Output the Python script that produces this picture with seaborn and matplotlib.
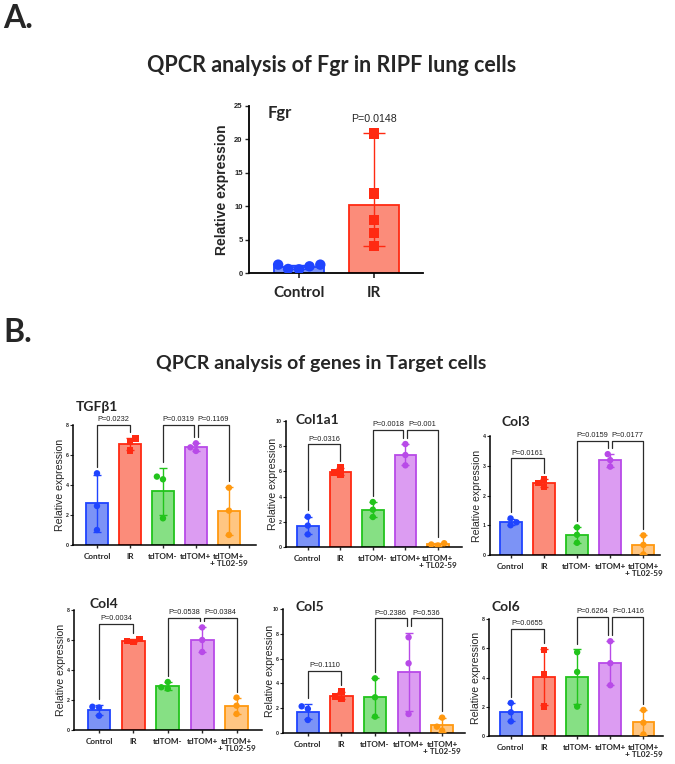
import numpy as np
import pandas as pd
import matplotlib
matplotlib.use("Agg")
import matplotlib.pyplot as plt
import seaborn as sns

# ---------------- data ----------------
groups = ["Control", "IR", "tdTOM-", "tdTOM+", "tdTOM+\n+ TL02-59"]

fgr_groups = ["Control", "IR"]
fgr_control = [0.6, 1.25, 1.0, 1.25, 0.55]
fgr_ir = [20.9, 11.9, 7.95, 5.95, 4.05]
fgr_p = "P=0.0148"

tgfb1 = [[4.78, 2.6, 1.0], [7.1, 6.85, 6.3], [4.56, 4.38, 1.78], [6.78, 6.51, 6.27], [3.82, 2.29, 0.67]]
col1a1 = [[2.4, 1.7, 1.0], [6.3, 5.9, 5.75], [3.57, 2.96, 2.38], [8.17, 7.3, 6.48], [0.3, 0.2, 0.12]]
col3 = [[1.23, 1.1, 1.0], [2.54, 2.41, 2.28], [0.93, 0.68, 0.41], [3.39, 3.19, 2.97], [0.66, 0.34, 0.02]]
col4 = [[1.55, 1.5, 0.95], [6.05, 5.95, 5.85], [3.2, 2.85, 2.75], [6.84, 6.0, 5.2], [2.16, 1.62, 1.07]]
col5 = [[2.15, 1.95, 1.05], [3.35, 2.95, 2.75], [4.41, 2.88, 1.32], [7.72, 5.62, 1.53], [1.24, 0.51, 0.19]]
col6 = [[2.26, 1.62, 1.0], [5.89, 4.2, 2.01], [5.73, 4.38, 2.01], [6.48, 4.98, 3.47], [1.78, 0.91, 0.11]]

tgfb1_p = ["P=0.0232", "P=0.0319", "P=0.1169"]
col1a1_p = ["P=0.0316", "P=0.0018", "P=0.001"]
col3_p = ["P=0.0161", "P=0.0159", "P=0.0177"]
col4_p = ["P=0.0034", "P=0.0538", "P=0.0384"]
col5_p = ["P=0.1110", "P=0.2386", "P=0.536"]
col6_p = ["P=0.0655", "P=0.6264", "P=0.1416"]

gene_names = ["TGFβ1", "Col1a1", "Col3", "Col4", "Col5", "Col6"]

# ---------------- style ----------------
fills = ["#7c93f6", "#fb8c7a", "#86e084", "#dc9cf2", "#ffc682"]
edges = ["#1f44ff", "#ff2a12", "#22c41c", "#b84ae8", "#ff980f"]

sns.set_theme(style="ticks")
plt.rcParams["font.family"] = ["Liberation Sans", "DejaVu Sans"]
TITLE_FONT = ["Lato", "DejaVu Sans"]
NARROW_FONT = ["Liberation Sans Narrow", "Lato", "DejaVu Sans"]

W, H = 675, 764
fig = plt.figure(figsize=(W / 100, H / 100), dpi=100)


def add_ax(x0, x1, y0, y1):
    return fig.add_axes([x0 / W, 1 - y1 / H, (x1 - x0) / W, (y1 - y0) / H])


def style_axes(ax, lw=1.1):
    sns.despine(ax=ax)
    for s in ("left", "bottom"):
        ax.spines[s].set_linewidth(lw)
        ax.spines[s].set_color("black")
    ax.set_xlabel("")


def draw_groups(ax, names, values, bar_w, msize, cap, mode):
    df = pd.DataFrame({
        "group": np.repeat(names, [len(v) for v in values]),
        "value": np.concatenate([np.asarray(v, float) for v in values]),
    })
    fpal = dict(zip(names, fills))
    epal = dict(zip(names, edges))
    sns.barplot(data=df, x="group", y="value", hue="group", order=names,
                hue_order=names, palette=fpal, errorbar=None, width=bar_w,
                legend=False, ax=ax, linewidth=1.3, saturation=1, zorder=1)
    for patch, name in zip(ax.patches, names):
        patch.set_edgecolor(epal[name])
    stats = df.groupby("group", sort=False)["value"].agg(["mean", "std", "min", "max"]).reindex(names)
    tops = []
    for i, n in enumerate(names):
        m = stats.loc[n, "mean"]
        if mode == "sd":
            lo, hi = m - stats.loc[n, "std"], m + stats.loc[n, "std"]
        else:
            lo, hi = stats.loc[n, "min"], stats.loc[n, "max"]
        ax.errorbar(i, m, yerr=[[m - lo], [hi - m]], color=epal[n], capsize=cap,
                    elinewidth=1.0, capthick=1.0, zorder=3)
        tops.append(max(hi, stats.loc[n, "max"]))
    for mk in ("o", "s"):
        sel = [n for n in names if (n == "IR") == (mk == "s")]
        sub = df[df["group"].isin(sel)]
        sns.swarmplot(data=sub, x="group", y="value", hue="group", order=names,
                      hue_order=names, palette=epal, marker=mk, size=msize,
                      linewidth=0, legend=False, ax=ax, zorder=4)
    return tops


def bracket(ax, x1, x2, y, yl1, yl2, text, fs):
    ax.plot([x1, x1, x2, x2], [yl1, y, y, yl2], color="#2b2b2b", lw=0.9,
            clip_on=False, zorder=5)
    ax.annotate(text, ((x1 + x2) / 2, y), xytext=(0, 1.2), textcoords="offset points",
                ha="center", va="bottom", fontsize=fs, color="#222222",
                annotation_clip=False)


# ---------------- panel A ----------------
fig.text(3 / W, 1 - 18 / H, "A.", fontsize=23, fontweight="bold", family=TITLE_FONT,
         ha="left", va="center")
fig.text(332 / W, 1 - 65 / H, "QPCR analysis of Fgr in RIPF lung cells", fontsize=15.5,
         fontweight="bold", family=TITLE_FONT, ha="center", va="center")

axA = add_ax(249, 423, 106, 273)
draw_groups(axA, fgr_groups, [fgr_control, fgr_ir], bar_w=0.67, msize=7.5, cap=8, mode="range")
axA.set_xlim(-0.667, 1.653)
axA.set_ylim(0, 25)
axA.set_yticks(np.arange(0, 26, 5))
style_axes(axA, lw=1.3)
axA.tick_params(axis="y", labelsize=5.5, length=3, width=1, pad=1.5)
axA.tick_params(axis="x", labelsize=11, length=3.5, width=1.2, pad=6)
for t in axA.get_xticklabels():
    t.set_fontweight("bold")
    t.set_family(TITLE_FONT)
for t in axA.get_yticklabels():
    t.set_fontweight("bold")
axA.set_ylabel("Relative expression", fontsize=10, fontweight="bold")
axA.yaxis.set_label_coords((229 - 249) / 174, 0.5)
axA.text(-0.42, 24, "Fgr", fontsize=12, fontweight="bold", family=TITLE_FONT,
         ha="left", va="center")
axA.text(1, 23, fgr_p, fontsize=7.7, ha="center", va="center")

# ---------------- panel B ----------------
fig.text(3 / W, 1 - 333 / H, "B.", fontsize=23, fontweight="bold", family=TITLE_FONT,
         ha="left", va="center")
fig.text(321 / W, 1 - 364 / H, "QPCR analysis of genes in Target cells", fontsize=14,
         fontweight="bold", family=TITLE_FONT, ha="center", va="center")

gene_values = [tgfb1, col1a1, col3, col4, col5, col6]
gene_pvals = [tgfb1_p, col1a1_p, col3_p, col4_p, col5_p, col6_p]
# box (x0, x1, ytop, ybottom) in px, ymax, ystep, xlim, bracket heights, title pos
layouts = [
    dict(box=(73, 256, 425, 545), ymax=8, ystep=2, xlim=(-0.727, 4.82), h=(8.0, 8.0), tpos=(76, 407)),
    dict(box=(286, 462, 421, 547), ymax=10, ystep=2, xlim=(-0.67, 4.74), h=(8.15, 9.28), tpos=(296, 420)),
    dict(box=(490, 660, 436, 555), ymax=4, ystep=1, xlim=(-0.62, 4.5), h=(3.25, 3.83), tpos=(501, 422)),
    dict(box=(74, 262, 610, 730), ymax=8, ystep=2, xlim=(-0.73, 4.74), h=(7.1, 7.49), tpos=(89, 604)),
    dict(box=(283, 465, 609, 733), ymax=10, ystep=2, xlim=(-0.74, 4.68), h=(5.03, 9.25), tpos=(296, 607)),
    dict(box=(489, 663, 619, 736), ymax=8, ystep=2, xlim=(-0.66, 4.59), h=(7.31, 8.17), tpos=(492, 607)),
]

for name, vals, pv, lay in zip(gene_names, gene_values, gene_pvals, layouts):
    x0, x1, y0, y1 = lay["box"]
    ax = add_ax(x0, x1, y0, y1)
    tops = draw_groups(ax, groups, vals, bar_w=0.66, msize=4.6, cap=3.2, mode="sd")
    ax.set_xlim(*lay["xlim"])
    ax.set_ylim(0, lay["ymax"])
    ax.set_yticks(np.arange(0, lay["ymax"] + 0.01, lay["ystep"]))
    style_axes(ax, lw=1.1)
    ax.tick_params(axis="y", labelsize=3.8, length=2, width=0.8, pad=1)
    ax.tick_params(axis="x", labelsize=5.9, length=2.5, width=1.0, pad=3)
    for t in ax.get_xticklabels():
        t.set_fontweight("bold")
        t.set_family(NARROW_FONT)
        t.set_linespacing(1.1)
    for t in ax.get_yticklabels():
        t.set_fontweight("bold")
    ax.set_ylabel("Relative expression", fontsize=7.6)
    ax.yaxis.set_label_coords(-8 / (x1 - x0), 0.5)
    fig.text(lay["tpos"][0] / W, 1 - lay["tpos"][1] / H, name, fontsize=10,
             fontweight="bold", family=TITLE_FONT, ha="left", va="center")
    pad = 0.05 * lay["ymax"]
    gap = 0.06
    h1, h2 = lay["h"]
    bracket(ax, 0, 1, h1, tops[0] + pad, tops[1] + pad, pv[0], 5.3)
    bracket(ax, 2, 3 - gap, h2, tops[2] + pad, tops[3] + pad, pv[1], 5.3)
    bracket(ax, 3 + gap, 4, h2, tops[3] + pad, tops[4] + pad, pv[2], 5.3)

fig.savefig("out.png", dpi=100)
